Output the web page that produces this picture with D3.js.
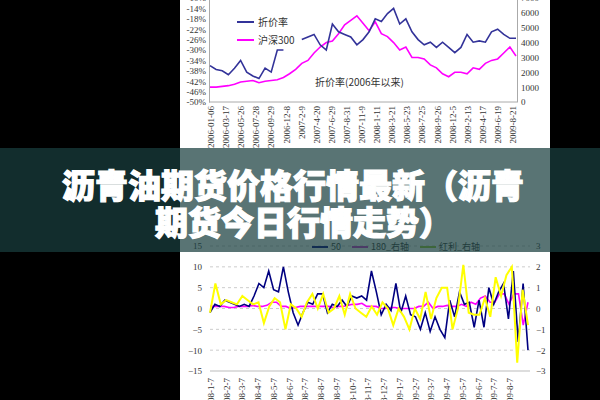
<!DOCTYPE html><html><head><meta charset="utf-8">
<script src="https://d3js.org/d3.v7.min.js"></script>
<style>body{margin:0;background:#000}svg{display:block}</style></head><body>
<svg id="c" width="600" height="400"></svg>
<script>
const topDates=["2006-01-06","2006-03-17","2006-05-26","2006-07-28","2006-09-29","2006-12-8","2007-2-9","2007-4-20","2007-6-29","2007-8-31","2007-11-9","2008-1-11","2008-3-21","2008-5-23","2008-7-25","2008-9-26","2008-12-5","2009-2-13","2009-4-17","2009-6-19","2009-8-21"];
const discount=[-36,-37.5,-38,-39.5,-37,-34,-38.5,-40,-41,-37,-38.5,-30,-30,null,null,-26,-25,-24,-28,-30,-20,-23,-24,-25,-28,-26,-23,-18,-19,-16,-14,-20,-18,-23,-26,-28,-27,-29,-27,-29,-31,-29,-24,-27,-26.5,-27,-23,-22,-24,-25.5,-25.5];
const hs300=[1000,1000,1050,1100,1200,1350,1400,1450,1300,1400,1450,1500,1650,1900,2200,2600,2800,3300,3700,4000,4100,4600,5200,5500,5800,5300,4800,5400,4600,4400,4000,3500,3700,3000,3000,2900,2500,2300,1900,1700,2000,2000,1900,2300,2200,2600,2800,2900,3300,3700,3100];
const botDates=["2008-1-7","2008-2-7","2008-3-7","2008-4-7","2008-5-7","2008-6-7","2008-7-7","2008-8-7","2008-9-7","2008-10-7","2008-11-7","2008-12-7","2009-1-7","2009-2-7","2009-3-7","2009-4-7","2009-5-7","2009-6-7","2009-7-7","2009-8-7"];
const s50=[-1,1,0.5,2,1.5,1,0.5,1,0.5,3,6,5,9,4.5,4,10,4,-1,-4,-1,1.5,1,3.5,3.5,-1,1,0.5,2,0.5,3,2.5,3,2,9,4,-1.5,1,-0.5,6,-1,3,-1.5,-2,-5,-1,-5.5,-2,-5,-7,2,-2,4,1,1.5,-4.5,2,-4.5,5,1,4,6,-2.5,9,-8,6,-10];
const s180=[0.1,0.1,0.1,0.1,0.05,0.05,0.1,0.1,0.1,0.15,0.1,0.1,0.15,0.3,0.3,0.1,0.1,0,0.05,0.1,0.1,0.1,0.1,0.1,0.1,0.1,0.05,0.1,0.1,0.15,0.2,0.2,0.25,0.1,0.1,0.1,0,0,0.05,0.05,0,0,0,0,0.1,0.1,0.3,0,0.1,0.1,0.15,0.1,0.1,0.2,0.1,0.3,0.2,0.5,0.6,0.3,0.3,0.7,0.7,0.2,0.7,0.7,-0.8,0.3];
const sDiv=[-0.2,1.2,0.2,0.4,0.3,0.2,0.6,0.4,0.2,0.3,-0.7,0.1,0.5,0.3,-1,0.2,0,-0.4,0.3,0.7,0,0.7,-0.2,0,0.6,-0.3,0.7,0,-0.2,-0.4,0.1,-0.3,0.3,0,-0.8,0,-0.4,-1,0,-0.5,0.8,-0.5,0.5,1,1,-1,0,2.1,-0.2,-0.3,-0.3,0.5,-0.4,1.5,0.6,1.6,2,-2.6,0.9,-0.8];

const svg=d3.select("#c");
const serif="Liberation Serif, DejaVu Serif, serif";
const cjk="Noto Sans CJK SC";
svg.append("rect").attr("x",180).attr("y",0).attr("width",370).attr("height",400).attr("fill","#fff");
const styl=g=>g.selectAll("text").style("font-family",serif).style("font-size","9px").attr("fill","#333");

// top chart
const tx=d3.scaleLinear().domain([0,discount.length-1]).range([210,516]);
const tyL=d3.scaleLinear().domain([-50,-10]).range([102,-2]);
const tyR=d3.scaleLinear().domain([0,7000]).range([102,-2]);
svg.append("g").attr("transform","translate(209,0)").call(d3.axisLeft(tyL).tickValues(d3.range(-50,-9,4)).tickFormat(d=>d+"%").tickSize(0).tickPadding(3)).call(g=>{g.select(".domain").attr("stroke","#aaa");styl(g);});
svg.append("g").attr("transform","translate(517,0)").call(d3.axisRight(tyR).tickValues(d3.range(0,7001,1000)).tickFormat(d3.format("d")).tickSize(0).tickPadding(4)).call(g=>{g.select(".domain").attr("stroke","#aaa");styl(g);});
svg.append("line").attr("x1",209).attr("x2",517).attr("y1",102).attr("y2",102).attr("stroke","#aaa");
const tdx=d3.scalePoint().domain(topDates).range([211,513]);
svg.append("g").selectAll("text").data(topDates).join("text").attr("transform",d=>`translate(${tdx(d)+3},106) rotate(-90)`).attr("text-anchor","end").style("font-family",serif).style("font-size","9px").attr("fill","#333").text(d=>d);
svg.append("path").datum(hs300).attr("fill","none").attr("stroke","#ff00ff").attr("stroke-width",1.6).attr("d",d3.line().x((d,i)=>tx(i)).y(d=>tyR(d)));
svg.append("path").datum(discount).attr("fill","none").attr("stroke","#333399").attr("stroke-width",1.6).attr("d",d3.line().defined(d=>d!==null).x((d,i)=>tx(i)).y(d=>tyL(d)));
svg.append("line").attr("x1",237).attr("x2",254).attr("y1",22).attr("y2",22).attr("stroke","#333399").attr("stroke-width",2);
svg.append("text").attr("x",258).attr("y",26).style("font-size","10px").style("font-family",cjk).attr("fill","#333").text("折价率");
svg.append("line").attr("x1",237).attr("x2",254).attr("y1",40).attr("y2",40).attr("stroke","#ff00ff").attr("stroke-width",2);
svg.append("text").attr("x",258).attr("y",44).style("font-size","10px").style("font-family",cjk).attr("fill","#333").text("沪深300");
svg.append("text").attr("x",315).attr("y",86).style("font-size","10px").style("font-family",cjk).attr("fill","#333").text("折价率(2006年以来)");

// bottom chart
const bx=d3.scaleLinear().domain([0,s50.length-1]).range([210,528]);
const bx2=d3.scaleLinear().domain([0,sDiv.length-1]).range([210,528]);
const bx3=d3.scaleLinear().domain([0,s180.length-1]).range([210,528]);
const byL=d3.scaleLinear().domain([-15,15]).range([371,246]);
const byR=d3.scaleLinear().domain([-3,3]).range([371,246]);
svg.append("g").selectAll("line").data(d3.range(-10,16,5)).join("line").attr("x1",210).attr("x2",530).attr("y1",d=>byL(d)).attr("y2",d=>byL(d)).attr("stroke","#ccc").attr("stroke-dasharray","3,3");
svg.append("g").attr("transform","translate(208,0)").call(d3.axisLeft(byL).tickValues(d3.range(-15,16,5)).tickSize(0).tickPadding(6)).call(g=>{g.select(".domain").remove();styl(g);});
svg.append("g").attr("transform","translate(530,0)").call(d3.axisRight(byR).tickValues(d3.range(-3,4,1)).tickFormat(d3.format("d")).tickSize(0).tickPadding(6)).call(g=>{g.select(".domain").remove();styl(g);});
svg.append("line").attr("x1",210).attr("x2",530).attr("y1",371).attr("y2",371).attr("stroke","#bbb");
const bdx=d3.scalePoint().domain(botDates).range([211,510]);
svg.append("g").selectAll("text").data(botDates).join("text").attr("transform",d=>`translate(${bdx(d)+3},378) rotate(-90)`).attr("text-anchor","end").style("font-family",serif).style("font-size","9px").attr("fill","#333").text(d=>d);
svg.append("path").datum(s180).attr("fill","none").attr("stroke","#ff00ff").attr("stroke-width",1.6).attr("d",d3.line().x((d,i)=>bx3(i)).y(d=>byR(d)));
svg.append("path").datum(s50).attr("fill","none").attr("stroke","#000080").attr("stroke-width",1.6).attr("d",d3.line().x((d,i)=>bx(i)).y(d=>byL(d)));
svg.append("path").datum(sDiv).attr("fill","none").attr("stroke","#ffff00").attr("stroke-width",2).attr("d",d3.line().x((d,i)=>bx2(i)).y(d=>byR(d)));
[["50","#000080",312],["180_右轴","#cc33cc",352],["红利_右轴","#99cc33",420]].forEach(([t,c,x])=>{
 svg.append("line").attr("x1",x).attr("x2",x+16).attr("y1",247).attr("y2",247).attr("stroke",c).attr("stroke-width",2);
 svg.append("text").attr("x",x+19).attr("y",250).style("font-size","9px").style("font-family",cjk).attr("fill","#333").text(t);
});

// banner
svg.append("rect").attr("x",0).attr("y",148).attr("width",600).attr("height",104).attr("fill","rgba(25,62,62,0.72)");
const ban=svg.append("g").style("font-family",cjk).style("font-weight","900").style("font-size","33px").attr("fill","#fff").attr("stroke","#fff").attr("stroke-width",1.2);
ban.append("text").attr("x",62).attr("y",198).text("沥青油期货价格行情最新（沥青");
ban.append("text").attr("x",155).attr("y",235).text("期货今日行情走势）");
</script></body></html>
